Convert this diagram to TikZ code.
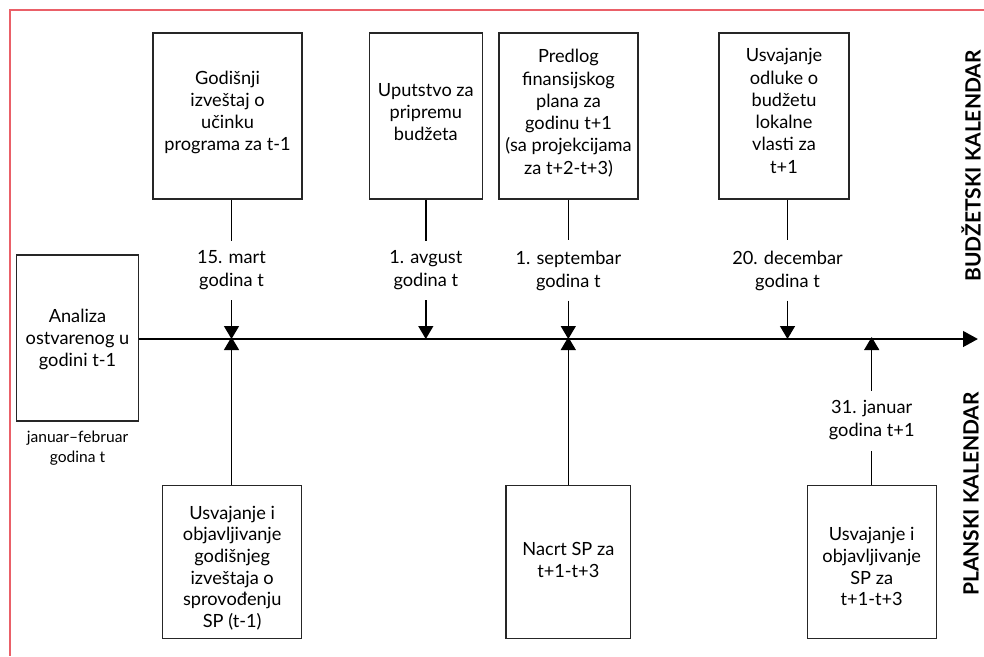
\documentclass[tikz,border=0pt]{standalone}
\usepackage{fontspec}
\setmainfont{Lato}
\usetikzlibrary{arrows.meta}
\definecolor{framered}{RGB}{234,96,104}
\newcommand\lowtxt[2]{\raisebox{#1}[\height][\depth]{\begin{tabular}{@{}c@{}}#2\end{tabular}}}
\tikzset{
  box/.style={draw=black!85, line width=1.1pt, inner sep=0pt, align=center,
    font=\fontsize{18.2}{22.3}\selectfont},
  boxlow/.style={box, font=\fontsize{18.2}{21.7}\selectfont},
  datelbl/.style={inner xsep=0pt, inner ysep=10pt, align=center,
    font=\fontsize{18.2}{23}\selectfont},
  smalllbl/.style={inner sep=0pt, align=center, font=\fontsize{15.6}{20}\selectfont},
  conn/.style={line width=1.4pt},
  tip/.style={line width=1.4pt, -{Triangle[width=15pt,length=13pt]}},
  axis/.style={line width=2.8pt, -{Triangle[width=15.5pt,length=15pt]}},
  side/.style={rotate=90, inner sep=0pt, font=\fontsize{21}{24}\selectfont\bfseries},
  framestyle/.style={draw=framered, line width=2pt}
}
\begin{document}
\begin{tikzpicture}[x=1pt,y=-1pt]
\useasboundingbox (0,0) rectangle (984,656);
% frame (partial)
\coordinate (fa) at (9.5,655.5);
\coordinate (fb) at (9.5,10);
\coordinate (fc) at (983.5,10);
\draw[framestyle] (fa) -- (fb) -- (fc);

% top boxes
\node[box, minimum width=149pt, minimum height=166pt] (g1) at (227.5,116)
  {\lowtxt{3pt}{Godišnji\\izveštaj o\\učinku\\programa za t-1}};
\node[box, minimum width=113pt, minimum height=166pt] (up) at (425.8,116)
  {\lowtxt{2pt}{Uputstvo za\\pripremu\\budžeta}};
\node[box, minimum width=139pt, minimum height=166pt] (pr) at (568.5,116)
  {\lowtxt{2pt}{Predlog\\finansijskog\\plana za\\godinu t+1\\(sa projekcijama\\za t+2-t+3)}};
\node[box, minimum width=130pt, minimum height=166pt] (uo) at (784,116)
  {\lowtxt{3pt}{Usvajanje\\odluke o\\budžetu\\lokalne\\vlasti za\\t+1}};

% left box
\node[box, minimum width=121.5pt, minimum height=166pt] (an) at (77.5,338)
  {\lowtxt{-2pt}{Analiza\\ostvarenog u\\godini t-1}};
\node[smalllbl] (anl) at (77.5,448) {januar–februar\\godina t};

% bottom boxes
\node[boxlow, minimum width=139pt, minimum height=152.5pt] (b1) at (232.2,562)
  {\lowtxt{-7pt}{Usvajanje i\\objavljivanje\\godišnjeg\\izveštaja o\\sprovođenju\\SP (t-1)}};
\node[boxlow, minimum width=124.7pt, minimum height=152.5pt] (b2) at (568.3,562)
  {\lowtxt{0pt}{Nacrt SP za\\t+1-t+3}};
\node[boxlow, minimum width=129.3pt, minimum height=152.5pt] (b3) at (871.7,562)
  {\lowtxt{-7pt}{Usvajanje i\\objavljivanje\\SP za\\t+1-t+3}};

% axis
\coordinate (axend) at (978,339);
\draw[axis] (an.east |- 0,339) -- (axend);

% date labels
\node[datelbl] (d1) at (231.5,270.5) {15. mart\\godina t};
\node[datelbl] (d2) at (425.8,270.5) {1. avgust\\godina t};
\node[datelbl] (d3) at (568.3,270.5) {1. septembar\\godina t};
\node[datelbl] (d4) at (787.5,270.5) {20. decembar\\godina t};
\node[datelbl] (d5) at (871.7,420.5) {31. januar\\godina t+1};

% axis points
\coordinate (p1) at (231.5,339);
\coordinate (p2) at (425.8,339);
\coordinate (p3) at (568.3,339);
\coordinate (p4) at (787.5,339);
\coordinate (p5) at (871.7,339);

% top connectors
\draw[conn] (g1.south -| d1) -- (d1.north);
\draw[tip] (d1.south) -- (p1);
\draw[conn] (up.south -| d2) -- (d2.north);
\draw[tip] (d2.south) -- (p2);
\draw[conn] (pr.south -| d3) -- (d3.north);
\draw[tip] (d3.south) -- (p3);
\draw[conn] (uo.south -| d4) -- (d4.north);
\draw[tip] (d4.south) -- (p4);

% bottom connectors
\draw[tip] (b1.north -| p1) -- ([yshift=2pt]p1);
\draw[tip] (b2.north -| p3) -- ([yshift=2pt]p3);
\draw[conn] (b3.north) -- (d5.south);
\draw[tip] (d5.north) -- ([yshift=2pt]p5);

% side labels
\node[side] (sb) at (971,166) {BUDŽETSKI KALENDAR};
\node[side] (sp) at (971,494) {PLANSKI KALENDAR};
\end{tikzpicture}
\end{document}
